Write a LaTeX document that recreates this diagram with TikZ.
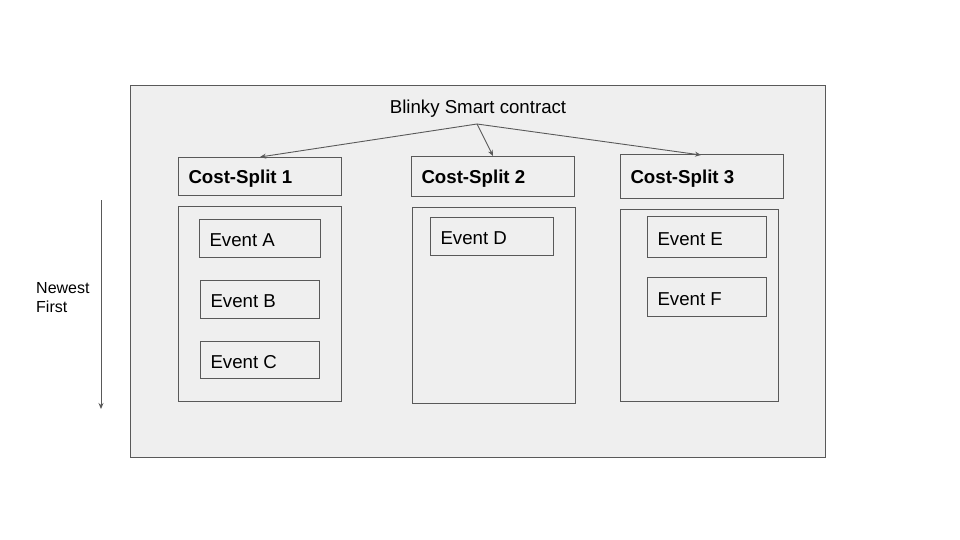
\documentclass[tikz,border=0pt]{standalone}
\usepackage{fontspec}
\setmainfont{Liberation Sans}
\usetikzlibrary{arrows.meta}
\definecolor{panel}{HTML}{EFEFEF}
\definecolor{edge}{HTML}{595959}
\tikzset{
  boxbase/.style={draw=edge, line width=1pt, anchor=north west, inner xsep=10pt, inner ysep=0pt, font=\fontsize{18.67}{22}\selectfont},
  arr/.style={draw=edge, line width=0.9pt, -{Stealth[length=6pt,width=5pt]}}
}
\newcommand{\mybox}[6]{% name, x, y, w, h, text
  \pgfmathsetmacro{\tw}{#4-20}
  \node[boxbase, minimum width=#4pt, minimum height=#5pt] (#1) at (#2,#3) {\raisebox{-2pt}[\height][\depth]{\makebox[\tw pt][l]{#6}}};
}
\begin{document}
\begin{tikzpicture}[x=1pt,y=-1pt]
\useasboundingbox (0,0) rectangle (960,540);
\fill[white] (0,0) rectangle (960,540);
\node[draw=edge, fill=panel, line width=1pt, anchor=north west, minimum width=695pt, minimum height=372pt, inner sep=0pt] (outer) at (130,85) {};
\node[font=\fontsize{18.67}{22}\selectfont] (title) at (478,109) {Blinky Smart contract};
\coordinate (src) at (477,124);
\mybox{cs1}{178}{157}{163}{38}{\textbf{Cost-Split 1}}
\mybox{cs2}{411}{156}{163}{40}{\textbf{Cost-Split 2}}
\mybox{cs3}{620}{154}{163}{44}{\textbf{Cost-Split 3}}
\mybox{c1}{178}{206}{163}{195}{}
\mybox{c2}{412}{207}{163}{196}{}
\mybox{c3}{620}{209}{158}{192}{}
\mybox{ea}{199}{219}{121}{38}{Event A}
\mybox{eb}{200}{280}{119}{38}{Event B}
\mybox{ec}{200}{341}{119}{37}{Event C}
\mybox{ed}{430}{217}{123}{38}{Event D}
\mybox{ee}{647}{216}{119}{41}{Event E}
\mybox{ef}{647}{277}{119}{39}{Event F}
\draw[arr] (src) -- (cs1.north);
\draw[arr] (src) -- (cs2.north);
\draw[arr] (src) -- ([xshift=-1pt,yshift=-1pt]cs3.north);
\coordinate (nfa) at (101,200);
\coordinate (nfb) at (101,409);
\draw[arr] (nfa) -- (nfb);
\node[anchor=west, align=left, inner sep=0pt, font=\fontsize{16}{19}\selectfont] (nf) at (36,298) {Newest\\First};
\end{tikzpicture}
\end{document}
